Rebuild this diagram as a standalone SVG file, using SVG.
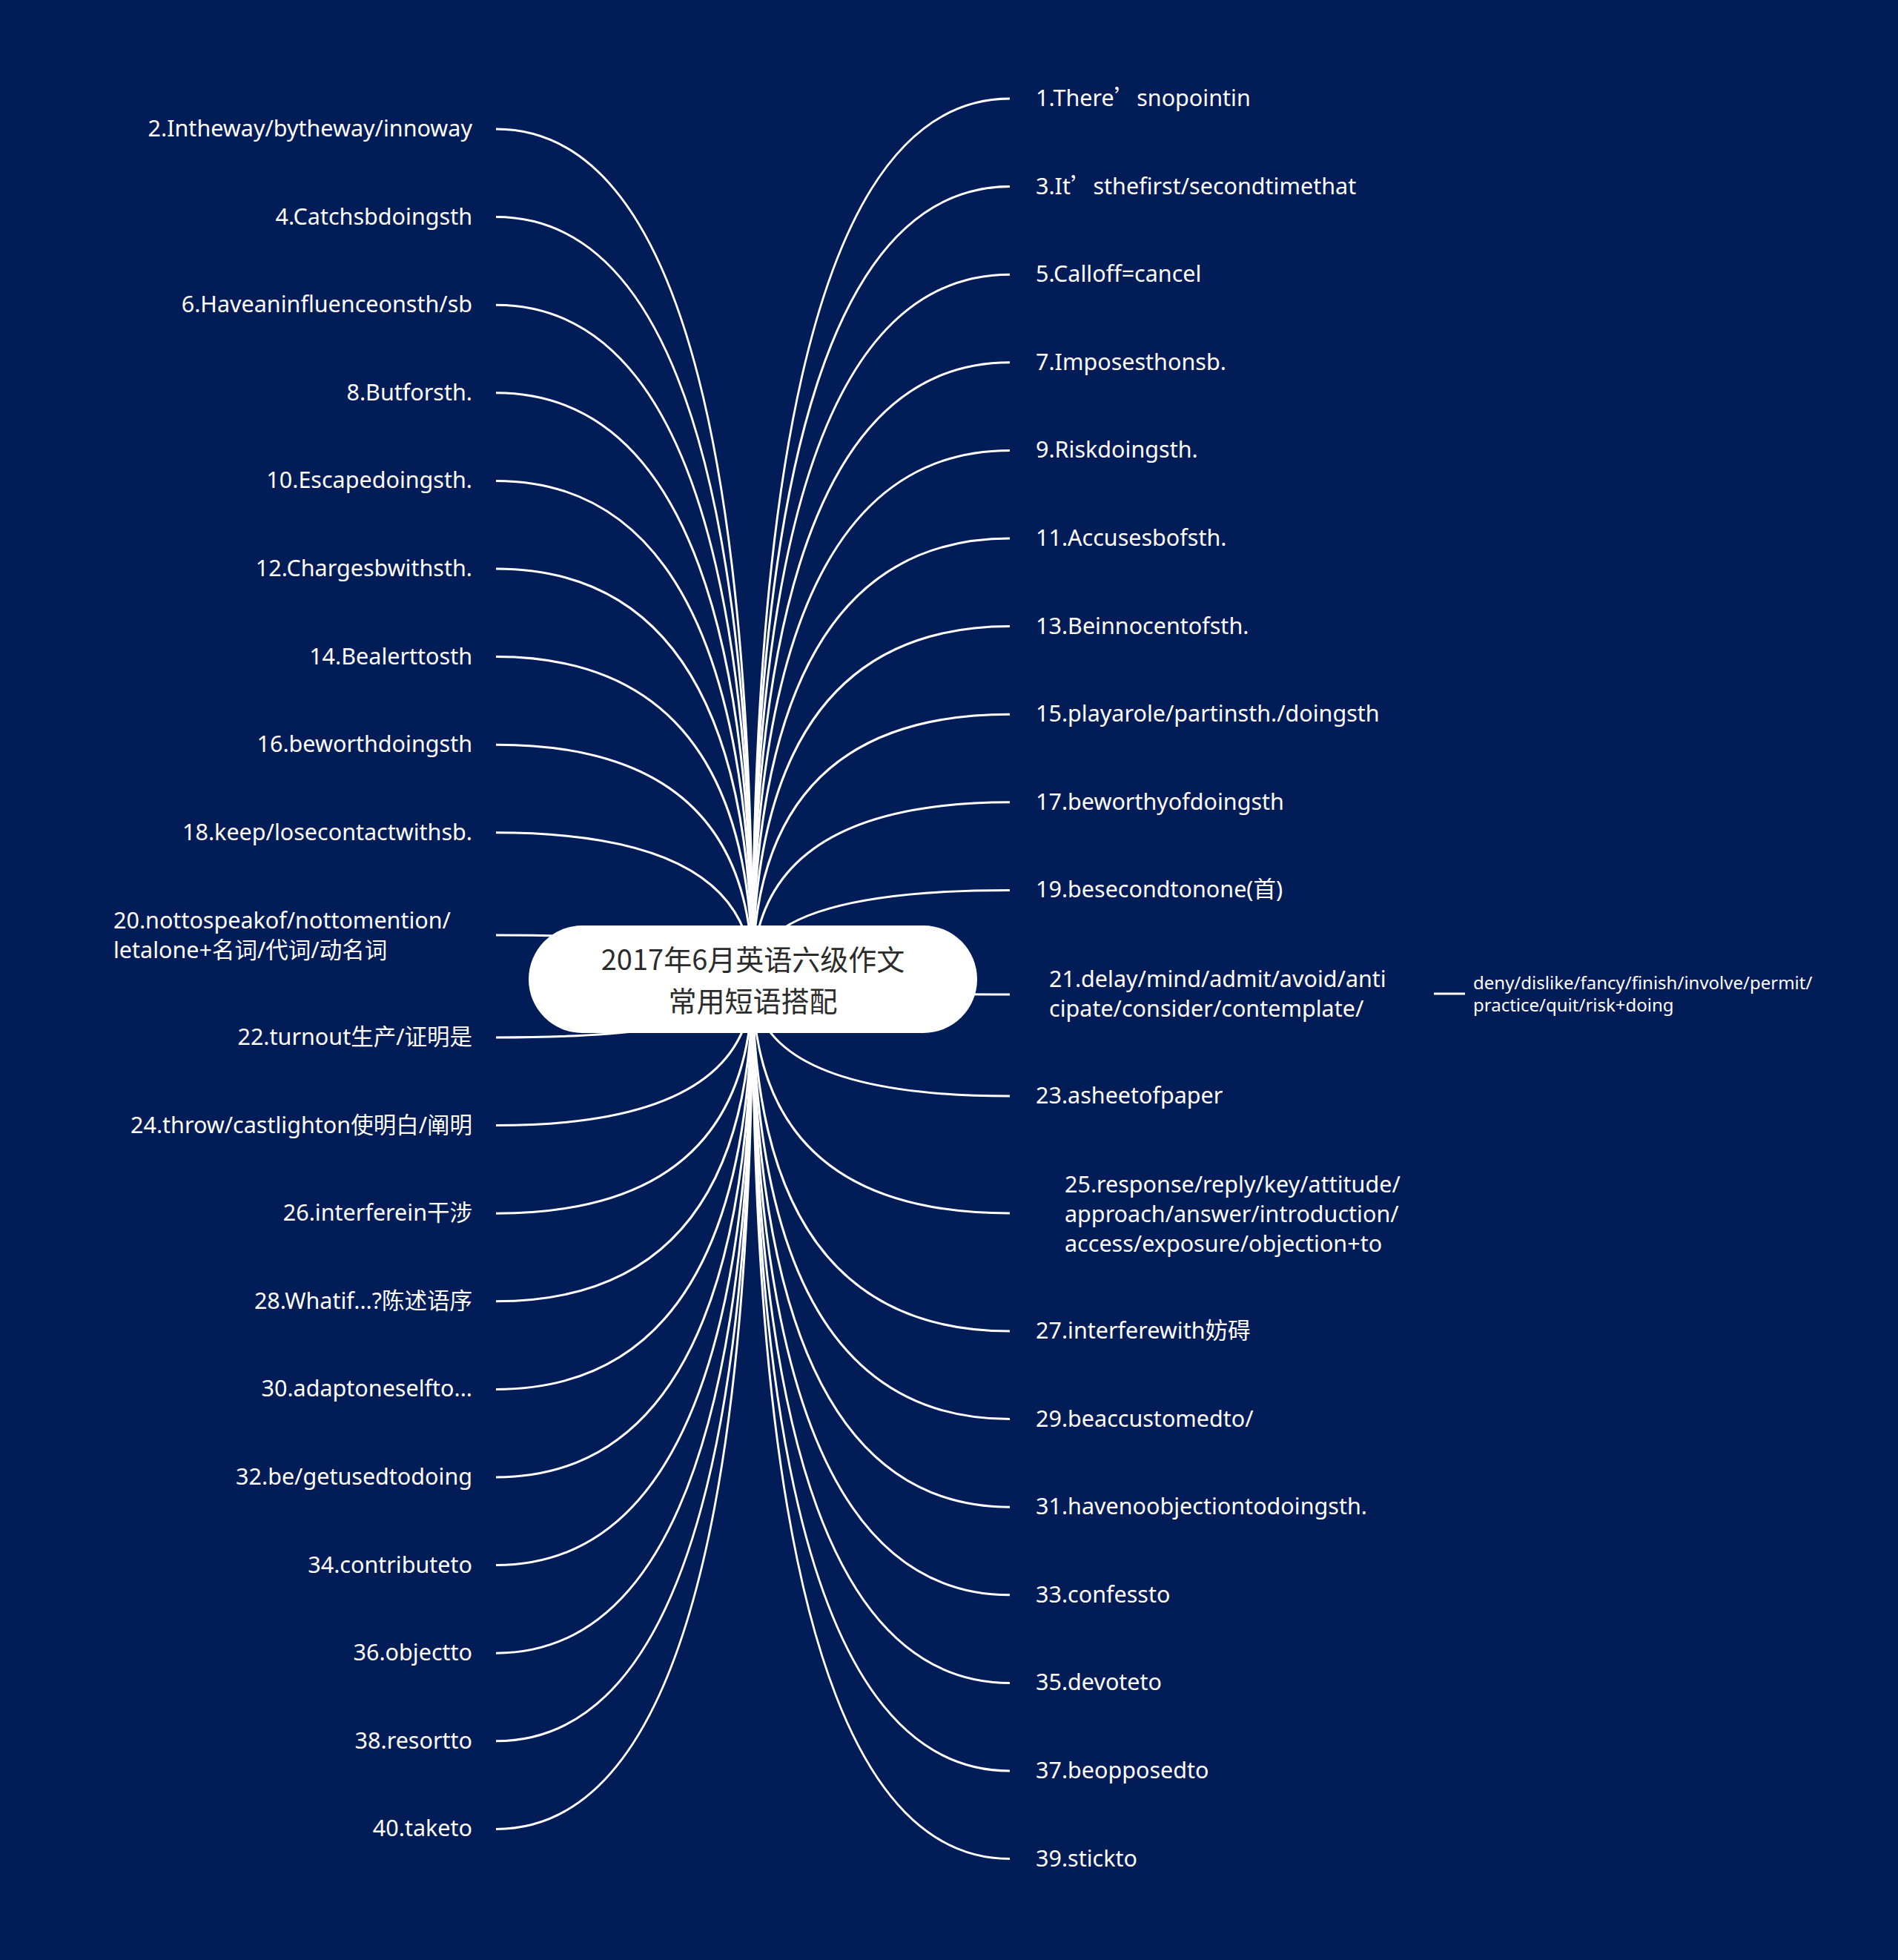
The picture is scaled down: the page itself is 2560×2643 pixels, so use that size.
<svg xmlns="http://www.w3.org/2000/svg" width="2560" height="2643" viewBox="0 0 2560 2643">
<style>
.bg{fill:#021c58}
.lk{fill:none;stroke:#ffffff;stroke-width:3}
.t{font-family:"Noto Sans","Noto Sans CJK SC",sans-serif;font-size:30.5px;fill:#ffffff}
.l{text-anchor:end}
.s{font-size:24px}
.cj{font-family:"Noto Sans CJK SC",sans-serif}
.root{fill:#ffffff}
.rt{font-family:"Noto Sans CJK SC","Noto Sans",sans-serif;font-size:38px;fill:#2b2b2b;text-anchor:middle}
</style>
<rect class="bg" x="0" y="0" width="2560" height="2643"/>
<g id="connectors">
<path class="lk" d="M1015 1320 Q1015 133 1362 133"/>
<path class="lk" d="M1015 1320 Q1015 251.6 1362 251.6"/>
<path class="lk" d="M1015 1320 Q1015 370.2 1362 370.2"/>
<path class="lk" d="M1015 1320 Q1015 488.8 1362 488.8"/>
<path class="lk" d="M1015 1320 Q1015 607.4 1362 607.4"/>
<path class="lk" d="M1015 1320 Q1015 726 1362 726"/>
<path class="lk" d="M1015 1320 Q1015 844.6 1362 844.6"/>
<path class="lk" d="M1015 1320 Q1015 963.2 1362 963.2"/>
<path class="lk" d="M1015 1320 Q1015 1081.8 1362 1081.8"/>
<path class="lk" d="M1015 1320 Q1015 1200.4 1362 1200.4"/>
<path class="lk" d="M1015 1320 Q1015 1341 1362 1341"/>
<path class="lk" d="M1015 1320 Q1015 1478 1362 1478"/>
<path class="lk" d="M1015 1320 Q1015 1636 1362 1636"/>
<path class="lk" d="M1015 1320 Q1015 1795 1362 1795"/>
<path class="lk" d="M1015 1320 Q1015 1913.6 1362 1913.6"/>
<path class="lk" d="M1015 1320 Q1015 2032.2 1362 2032.2"/>
<path class="lk" d="M1015 1320 Q1015 2150.8 1362 2150.8"/>
<path class="lk" d="M1015 1320 Q1015 2269.4 1362 2269.4"/>
<path class="lk" d="M1015 1320 Q1015 2388 1362 2388"/>
<path class="lk" d="M1015 1320 Q1015 2506.6 1362 2506.6"/>
<path class="lk" d="M1015 1320 Q1015 174 669 174"/>
<path class="lk" d="M1015 1320 Q1015 292.6 669 292.6"/>
<path class="lk" d="M1015 1320 Q1015 411.2 669 411.2"/>
<path class="lk" d="M1015 1320 Q1015 529.8 669 529.8"/>
<path class="lk" d="M1015 1320 Q1015 648.4 669 648.4"/>
<path class="lk" d="M1015 1320 Q1015 767 669 767"/>
<path class="lk" d="M1015 1320 Q1015 885.6 669 885.6"/>
<path class="lk" d="M1015 1320 Q1015 1004.2 669 1004.2"/>
<path class="lk" d="M1015 1320 Q1015 1122.8 669 1122.8"/>
<path class="lk" d="M1015 1320 Q1015 1261 669 1261"/>
<path class="lk" d="M1015 1320 Q1015 1399 669 1399"/>
<path class="lk" d="M1015 1320 Q1015 1517.6 669 1517.6"/>
<path class="lk" d="M1015 1320 Q1015 1636.2 669 1636.2"/>
<path class="lk" d="M1015 1320 Q1015 1754.8 669 1754.8"/>
<path class="lk" d="M1015 1320 Q1015 1873.4 669 1873.4"/>
<path class="lk" d="M1015 1320 Q1015 1992 669 1992"/>
<path class="lk" d="M1015 1320 Q1015 2110.6 669 2110.6"/>
<path class="lk" d="M1015 1320 Q1015 2229.2 669 2229.2"/>
<path class="lk" d="M1015 1320 Q1015 2347.8 669 2347.8"/>
<path class="lk" d="M1015 1320 Q1015 2466.4 669 2466.4"/>
<path class="lk" d="M1934 1340 L1976 1340"/>
</g>
<g id="root">
<rect class="root" x="713" y="1248" width="605" height="145" rx="72.5" ry="72.5"/>
<text class="rt" x="1015.5" y="1308">2017年6月英语六级作文</text>
<text class="rt" x="1015.5" y="1364">常用短语搭配</text>
</g>
<g id="n1"><text class="t" x="1397" y="143">1.There<tspan class="cj">’</tspan>snopointin</text></g>
<g id="n3"><text class="t" x="1397" y="261.6">3.It<tspan class="cj">’</tspan>sthefirst/secondtimethat</text></g>
<g id="n5"><text class="t" x="1397" y="380.2">5.Calloff=cancel</text></g>
<g id="n7"><text class="t" x="1397" y="498.8">7.Imposesthonsb.</text></g>
<g id="n9"><text class="t" x="1397" y="617.4">9.Riskdoingsth.</text></g>
<g id="n11"><text class="t" x="1397" y="736">11.Accusesbofsth.</text></g>
<g id="n13"><text class="t" x="1397" y="854.6">13.Beinnocentofsth.</text></g>
<g id="n15"><text class="t" x="1397" y="973.2">15.playarole/partinsth./doingsth</text></g>
<g id="n17"><text class="t" x="1397" y="1091.8">17.beworthyofdoingsth</text></g>
<g id="n19"><text class="t" x="1397" y="1210.4">19.besecondtonone(首)</text></g>
<g id="n21"><text class="t" x="1415" y="1331">21.delay/mind/admit/avoid/anti<tspan x="1415" dy="40">cipate/consider/contemplate/</tspan></text></g>
<g id="n21c"><text class="t s" x="1987" y="1334">deny/dislike/fancy/finish/involve/permit/<tspan x="1987" dy="30">practice/quit/risk+doing</tspan></text></g>
<g id="n23"><text class="t" x="1397" y="1488">23.asheetofpaper</text></g>
<g id="n25"><text class="t" x="1436" y="1608">25.response/reply/key/attitude/<tspan x="1436" dy="40">approach/answer/introduction/</tspan><tspan x="1436" dy="40">access/exposure/objection+to</tspan></text></g>
<g id="n27"><text class="t" x="1397" y="1805">27.interferewith妨碍</text></g>
<g id="n29"><text class="t" x="1397" y="1923.6">29.beaccustomedto/</text></g>
<g id="n31"><text class="t" x="1397" y="2042.2">31.havenoobjectiontodoingsth.</text></g>
<g id="n33"><text class="t" x="1397" y="2160.8">33.confessto</text></g>
<g id="n35"><text class="t" x="1397" y="2279.4">35.devoteto</text></g>
<g id="n37"><text class="t" x="1397" y="2398">37.beopposedto</text></g>
<g id="n39"><text class="t" x="1397" y="2516.6">39.stickto</text></g>
<g id="n2"><text class="t l" x="637" y="184">2.Intheway/bytheway/innoway</text></g>
<g id="n4"><text class="t l" x="637" y="302.6">4.Catchsbdoingsth</text></g>
<g id="n6"><text class="t l" x="637" y="421.2">6.Haveaninfluenceonsth/sb</text></g>
<g id="n8"><text class="t l" x="637" y="539.8">8.Butforsth.</text></g>
<g id="n10"><text class="t l" x="637" y="658.4">10.Escapedoingsth.</text></g>
<g id="n12"><text class="t l" x="637" y="777">12.Chargesbwithsth.</text></g>
<g id="n14"><text class="t l" x="637" y="895.6">14.Bealerttosth</text></g>
<g id="n16"><text class="t l" x="637" y="1014.2">16.beworthdoingsth</text></g>
<g id="n18"><text class="t l" x="637" y="1132.8">18.keep/losecontactwithsb.</text></g>
<g id="n20"><text class="t" x="153" y="1252">20.nottospeakof/nottomention/<tspan x="153" dy="40">letalone+名词/代词/动名词</tspan></text></g>
<g id="n22"><text class="t l" x="637" y="1409">22.turnout生产/证明是</text></g>
<g id="n24"><text class="t l" x="637" y="1527.6">24.throw/castlighton使明白/阐明</text></g>
<g id="n26"><text class="t l" x="637" y="1646.2">26.interferein干涉</text></g>
<g id="n28"><text class="t l" x="637" y="1764.8">28.Whatif...?陈述语序</text></g>
<g id="n30"><text class="t l" x="637" y="1883.4">30.adaptoneselfto...</text></g>
<g id="n32"><text class="t l" x="637" y="2002">32.be/getusedtodoing</text></g>
<g id="n34"><text class="t l" x="637" y="2120.6">34.contributeto</text></g>
<g id="n36"><text class="t l" x="637" y="2239.2">36.objectto</text></g>
<g id="n38"><text class="t l" x="637" y="2357.8">38.resortto</text></g>
<g id="n40"><text class="t l" x="637" y="2476.4">40.taketo</text></g>
</svg>
